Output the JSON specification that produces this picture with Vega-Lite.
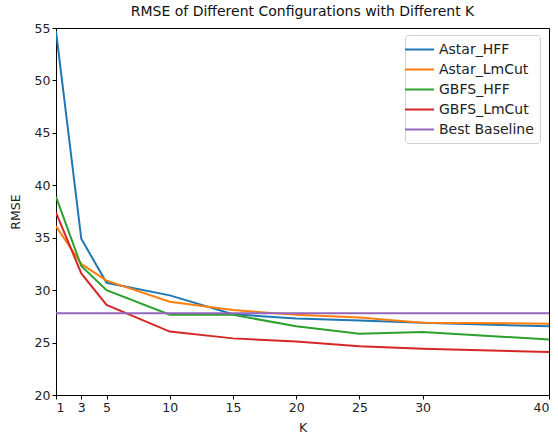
{
  "$schema": "https://vega.github.io/schema/vega-lite/v6.json",
  "width": 493,
  "height": 367,
  "autosize": "none",
  "padding": {"left": 56, "top": 28, "right": 9, "bottom": 44},
  "background": "white",
  "config": {
    "font": "DejaVu Sans",
    "view": {"stroke": "black", "strokeWidth": 1},
    "axis": {"grid": false, "domainColor": "black", "tickColor": "black", "labelColor": "#222", "titleColor": "#222", "labelFontSize": 12.5, "titleFontSize": 12.5, "titleFontWeight": "normal", "tickSize": 4, "labelPadding": 2}
  },
  "title": {"text": "RMSE of Different Configurations with Different K", "fontSize": 14, "fontWeight": "normal", "color": "#111", "anchor": "middle", "offset": 3},
  "data": {"values": [
    {"K": 1, "RMSE": 54.7, "series": "Astar_HFF"},
    {"K": 3, "RMSE": 34.9, "series": "Astar_HFF"},
    {"K": 5, "RMSE": 30.7, "series": "Astar_HFF"},
    {"K": 10, "RMSE": 29.5, "series": "Astar_HFF"},
    {"K": 15, "RMSE": 27.7, "series": "Astar_HFF"},
    {"K": 20, "RMSE": 27.3, "series": "Astar_HFF"},
    {"K": 25, "RMSE": 27.1, "series": "Astar_HFF"},
    {"K": 30, "RMSE": 26.9, "series": "Astar_HFF"},
    {"K": 40, "RMSE": 26.55, "series": "Astar_HFF"},
    {"K": 1, "RMSE": 36.1, "series": "Astar_LmCut"},
    {"K": 3, "RMSE": 32.5, "series": "Astar_LmCut"},
    {"K": 5, "RMSE": 30.9, "series": "Astar_LmCut"},
    {"K": 10, "RMSE": 28.9, "series": "Astar_LmCut"},
    {"K": 15, "RMSE": 28.1, "series": "Astar_LmCut"},
    {"K": 20, "RMSE": 27.65, "series": "Astar_LmCut"},
    {"K": 25, "RMSE": 27.4, "series": "Astar_LmCut"},
    {"K": 30, "RMSE": 26.9, "series": "Astar_LmCut"},
    {"K": 40, "RMSE": 26.8, "series": "Astar_LmCut"},
    {"K": 1, "RMSE": 38.9, "series": "GBFS_HFF"},
    {"K": 3, "RMSE": 32.3, "series": "GBFS_HFF"},
    {"K": 5, "RMSE": 30.0, "series": "GBFS_HFF"},
    {"K": 10, "RMSE": 27.65, "series": "GBFS_HFF"},
    {"K": 15, "RMSE": 27.65, "series": "GBFS_HFF"},
    {"K": 20, "RMSE": 26.55, "series": "GBFS_HFF"},
    {"K": 25, "RMSE": 25.85, "series": "GBFS_HFF"},
    {"K": 30, "RMSE": 26.0, "series": "GBFS_HFF"},
    {"K": 40, "RMSE": 25.3, "series": "GBFS_HFF"},
    {"K": 1, "RMSE": 37.4, "series": "GBFS_LmCut"},
    {"K": 3, "RMSE": 31.6, "series": "GBFS_LmCut"},
    {"K": 5, "RMSE": 28.6, "series": "GBFS_LmCut"},
    {"K": 10, "RMSE": 26.05, "series": "GBFS_LmCut"},
    {"K": 15, "RMSE": 25.4, "series": "GBFS_LmCut"},
    {"K": 20, "RMSE": 25.1, "series": "GBFS_LmCut"},
    {"K": 25, "RMSE": 24.65, "series": "GBFS_LmCut"},
    {"K": 30, "RMSE": 24.4, "series": "GBFS_LmCut"},
    {"K": 40, "RMSE": 24.1, "series": "GBFS_LmCut"},
    {"K": 1, "RMSE": 27.8, "series": "Best Baseline"},
    {"K": 40, "RMSE": 27.8, "series": "Best Baseline"}
  ]},
  "mark": {"type": "line", "strokeWidth": 2, "clip": true},
  "encoding": {
    "x": {"field": "K", "type": "quantitative", "title": "K",
      "scale": {"domain": [1, 40], "nice": false, "zero": false},
      "axis": {"values": [1, 3, 5, 10, 15, 20, 25, 30, 40], "titlePadding": 8}},
    "y": {"field": "RMSE", "type": "quantitative", "title": "RMSE",
      "scale": {"domain": [20, 55], "nice": false, "zero": false},
      "axis": {"values": [20, 25, 30, 35, 40, 45, 50, 55], "titlePadding": 12}},
    "color": {"field": "series", "type": "nominal",
      "scale": {"domain": ["Astar_HFF", "Astar_LmCut", "GBFS_HFF", "GBFS_LmCut", "Best Baseline"],
        "range": ["#1f77b4", "#ff7f0e", "#2ca02c", "#d62728", "#9467bd"]},
      "legend": {"title": null, "orient": "none", "legendX": 349, "legendY": 7,
        "symbolType": "M-2,0L2,0", "symbolSize": 210, "symbolStrokeWidth": 2,
        "labelFontSize": 14, "labelColor": "#222", "rowPadding": 4, "labelOffset": 11,
        "padding": 6, "strokeColor": "#d0d0d0", "fillColor": "white", "cornerRadius": 3}},
    "order": {"field": "K", "type": "quantitative"}
  }
}
